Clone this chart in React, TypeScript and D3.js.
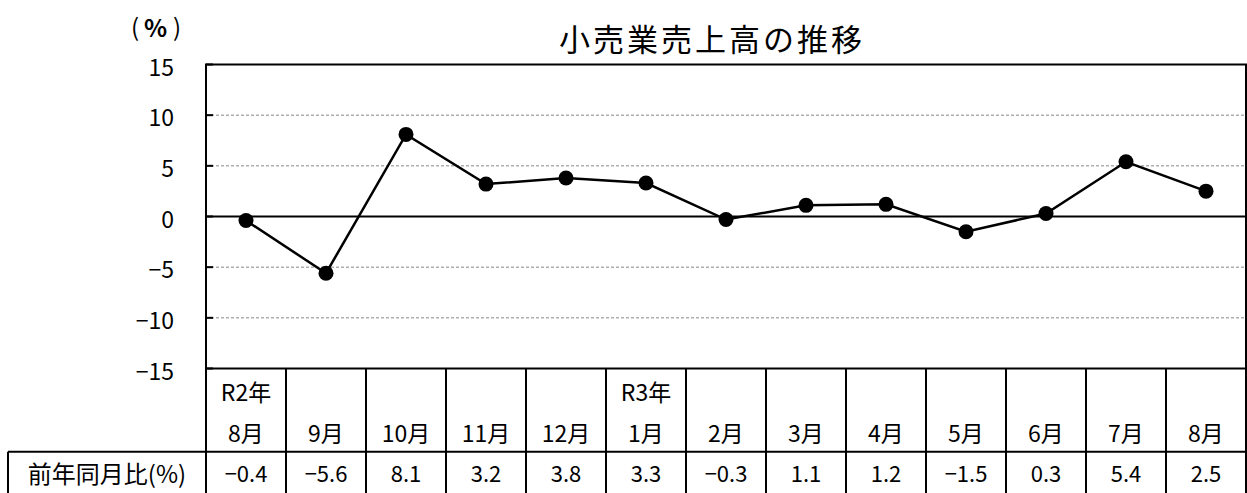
import React from "react";
import * as d3 from "d3";

const categoriesTop = ["R2年", "", "", "", "", "R3年", "", "", "", "", "", "", ""];
const categoriesMonth = ["8月", "9月", "10月", "11月", "12月", "1月", "2月", "3月", "4月", "5月", "6月", "7月", "8月"];
const values = [-0.4, -5.6, 8.1, 3.2, 3.8, 3.3, -0.3, 1.1, 1.2, -1.5, 0.3, 5.4, 2.5];
const yTicks = [15, 10, 5, 0, -5, -10, -15];
const title = "小売業売上高の推移";
const rowLabel = "前年同月比(%)";

const W = 1247;
const H = 493;
const FONT = "'Noto Sans CJK JP', 'Noto Sans', sans-serif";

const fmtTick = (v: number) => (v < 0 ? "−" + Math.abs(v) : String(v));
const fmtVal = (v: number) => (v < 0 ? "−" + Math.abs(v).toFixed(1) : v.toFixed(1));

export default function App() {
  const left = 206;
  const right = 1246;
  const top = 64.5;
  const bottom = 368.5;
  const x = d3
    .scaleBand<number>()
    .domain(values.map((_, i) => i))
    .range([left, right])
    .padding(0);
  const y = d3.scaleLinear().domain([-15, 15]).range([bottom, top]);
  const cx = (i: number) => (x(i) as number) + x.bandwidth() / 2;
  const line = d3
    .line<number>()
    .x((_, i) => cx(i))
    .y((d) => y(d));

  const rowLine = 451.7;
  const tableBottom = H;
  const boundaries = values.map((_, i) => x(i) as number).concat([right]);

  return (
    <svg
      width={W}
      height={H}
      style={{ position: "absolute", left: 0, top: 0, background: "#fff" }}
      fontFamily={FONT}
    >
      <rect x={0} y={0} width={W} height={H} fill="#fff" />
      {/* title */}
      <text x={712} y={37} textAnchor="middle" dominantBaseline="central" fontSize={31} letterSpacing={3} fill="#000">
        {title}
      </text>
      {/* unit label (%) */}
      <g fontSize={24} fill="#000">
        <text x={135} y={25} textAnchor="middle" dominantBaseline="central">(</text>
        <text x={155.5} y={26} textAnchor="middle" dominantBaseline="central" fontWeight="bold">%</text>
        <text x={177} y={25} textAnchor="middle" dominantBaseline="central">)</text>
      </g>
      {/* gridlines */}
      {yTicks
        .filter((t) => t !== 0 && t !== 15 && t !== -15)
        .map((t) => (
          <line key={"g" + t} x1={left} x2={right} y1={y(t)} y2={y(t)} stroke="#888" strokeWidth={1} strokeDasharray="3,2" />
        ))}
      {/* tick marks */}
      {yTicks.map((t) => (
        <line key={"t" + t} x1={left} x2={left + 7} y1={y(t)} y2={y(t)} stroke="#000" strokeWidth={2} />
      ))}
      {/* zero line */}
      <line x1={left} x2={right} y1={y(0)} y2={y(0)} stroke="#000" strokeWidth={2} />
      {/* plot border */}
      <rect x={left} y={top} width={right - left} height={bottom - top} fill="none" stroke="#000" strokeWidth={2} />
      {/* y tick labels */}
      {yTicks.map((t) => (
        <text key={"l" + t} x={174} y={y(t) + 1} textAnchor="end" dominantBaseline="central" fontSize={23} fill="#000">
          {fmtTick(t)}
        </text>
      ))}
      {/* data line */}
      <path d={line(values) || ""} fill="none" stroke="#000" strokeWidth={2.5} />
      {values.map((v, i) => (
        <circle key={"c" + i} cx={cx(i)} cy={y(v)} r={7.5} fill="#000" />
      ))}
      {/* table */}
      {boundaries.map((b, i) => (
        <line key={"v" + i} x1={b} x2={b} y1={bottom} y2={tableBottom} stroke="#000" strokeWidth={2} />
      ))}
      <line x1={8} x2={right} y1={rowLine} y2={rowLine} stroke="#000" strokeWidth={2} />
      <line x1={8} x2={8} y1={rowLine} y2={tableBottom} stroke="#000" strokeWidth={2} />
      {categoriesTop.map((c, i) =>
        c ? (
          <text key={"ct" + i} x={cx(i)} y={391} textAnchor="middle" dominantBaseline="central" fontSize={23} fill="#000">
            {c}
          </text>
        ) : null
      )}
      {categoriesMonth.map((c, i) => (
        <text key={"cm" + i} x={cx(i)} y={432} textAnchor="middle" dominantBaseline="central" fontSize={23} fill="#000">
          {c}
        </text>
      ))}
      <text x={107} y={472} textAnchor="middle" dominantBaseline="central" fontSize={24} fill="#000">
        {rowLabel}
      </text>
      {values.map((v, i) => (
        <text key={"dv" + i} x={cx(i)} y={472} textAnchor="middle" dominantBaseline="central" fontSize={22} fill="#000">
          {fmtVal(v)}
        </text>
      ))}
    </svg>
  );
}
